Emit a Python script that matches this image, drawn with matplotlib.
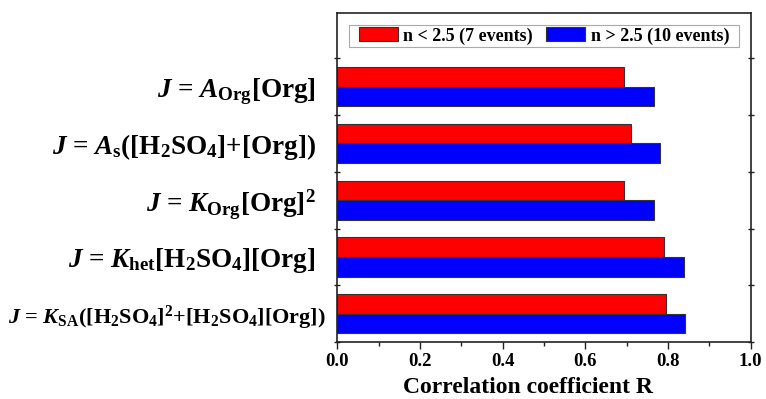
import matplotlib
matplotlib.use("Agg")
import matplotlib.pyplot as plt
from matplotlib.ticker import MultipleLocator, FixedLocator, FormatStrFormatter
from matplotlib.patches import Rectangle
import numpy as np

plt.rcParams['font.family'] = ['Liberation Serif']
plt.rcParams['font.weight'] = 'bold'
plt.rcParams['mathtext.fontset'] = 'custom'
plt.rcParams['mathtext.rm'] = 'Liberation Serif:bold'
plt.rcParams['mathtext.bf'] = 'Liberation Serif:bold'
plt.rcParams['mathtext.it'] = 'Liberation Serif:bold:italic'

# categories from bottom to top
categories = [
    r'$\mathit{J}$ = $\mathit{K}_{\mathrm{SA}}$([H$_2$SO$_4$]$^2$+[H$_2$SO$_4$][Org])',
    r'$\mathit{J}$ = $\mathit{K}_{\mathrm{het}}$[H$_2$SO$_4$][Org]',
    r'$\mathit{J}$ = $\mathit{K}_{\mathrm{Org}}$[Org]$^2$',
    r'$\mathit{J}$ = $\mathit{A}_{\mathrm{s}}$([H$_2$SO$_4$]+[Org])',
    r'$\mathit{J}$ = $\mathit{A}_{\mathrm{Org}}$[Org]',
]
label_sizes = [16.0, 19.5, 19.5, 19.5, 19.5]
label_pads = [8.5, 15.5, 15.5, 15.5, 15.5]
r_low = [0.796, 0.790, 0.694, 0.710, 0.693]   # n < 2.5 (7 events)
r_high = [0.841, 0.838, 0.766, 0.781, 0.765]  # n > 2.5 (10 events)
series_names = ['n < 2.5 (7 events)', 'n > 2.5 (10 events)']

fig = plt.figure(figsize=(7.66, 3.99), dpi=100)
ax = fig.add_axes([0.4403, 0.1429, 0.5397, 0.8245])

y = np.arange(len(categories))
h = 0.347
ax.barh(y + h / 2, r_low, height=h, color='#ff0000', edgecolor='#333333',
        linewidth=0.8, label=series_names[0])
ax.barh(y - h / 2, r_high, height=h, color='#0000ff', edgecolor='#333333',
        linewidth=0.8, label=series_names[1])

ax.set_xlim(0, 1.0)
ax.set_ylim(-0.5, 5.30)

ax.set_yticks(y)
ax.set_yticklabels(categories)
ax.tick_params(axis='y', which='major', length=0)
for tk, s, p in zip(ax.yaxis.get_major_ticks(), label_sizes, label_pads):
    tk.label1.set_fontsize(s)
    tk.set_pad(p)
ax.yaxis.set_minor_locator(FixedLocator(np.arange(-0.5, 5.0, 1.0)))
ax.tick_params(axis='y', which='minor', direction='inout', length=5,
               width=1.0, left=True, right=True, color='#222222')

ax.xaxis.set_major_locator(MultipleLocator(0.2))
ax.xaxis.set_minor_locator(MultipleLocator(0.1))
ax.xaxis.set_major_formatter(FormatStrFormatter('%.1f'))
ax.tick_params(axis='x', which='major', direction='out', length=5, width=1.0,
               labelsize=13.5, pad=3, color='#222222')
ax.tick_params(axis='x', which='minor', direction='out', length=3, width=1.0,
               color='#222222')

ax.set_xlabel('Correlation coefficient R', fontsize=17, fontweight='bold', labelpad=5)
ax.xaxis.label.set_x(0.4625)

for sp in ax.spines.values():
    sp.set_linewidth(1.2)
    sp.set_color('#222222')

leg = ax.legend(loc='upper center', bbox_to_anchor=(0.5, 0.962), ncol=2,
                fancybox=False, frameon=False,
                prop={'family': 'Liberation Serif', 'weight': 'bold', 'size': 13},
                handlelength=2.15, handleheight=0.8, columnspacing=0.75,
                handletextpad=0.3, borderpad=0.1, borderaxespad=0.0)
for p in leg.get_patches():
    p.set_edgecolor('#333333')
    p.set_linewidth(0.8)

# frame around the legend, a little wider than its content
fig.canvas.draw()
bb = leg.get_window_extent().transformed(ax.transAxes.inverted())
padx = 8.0 / ax.get_window_extent().width
pady = 1.0 / ax.get_window_extent().height
frame = Rectangle((bb.x0 - padx, bb.y0 - pady), bb.width + 2 * padx,
                  bb.height + 2 * pady, transform=ax.transAxes,
                  facecolor='white', edgecolor='#aaaaaa', linewidth=0.8,
                  zorder=4.9)
ax.add_patch(frame)
leg.set_zorder(5)

fig.savefig('out.png', dpi=100)
